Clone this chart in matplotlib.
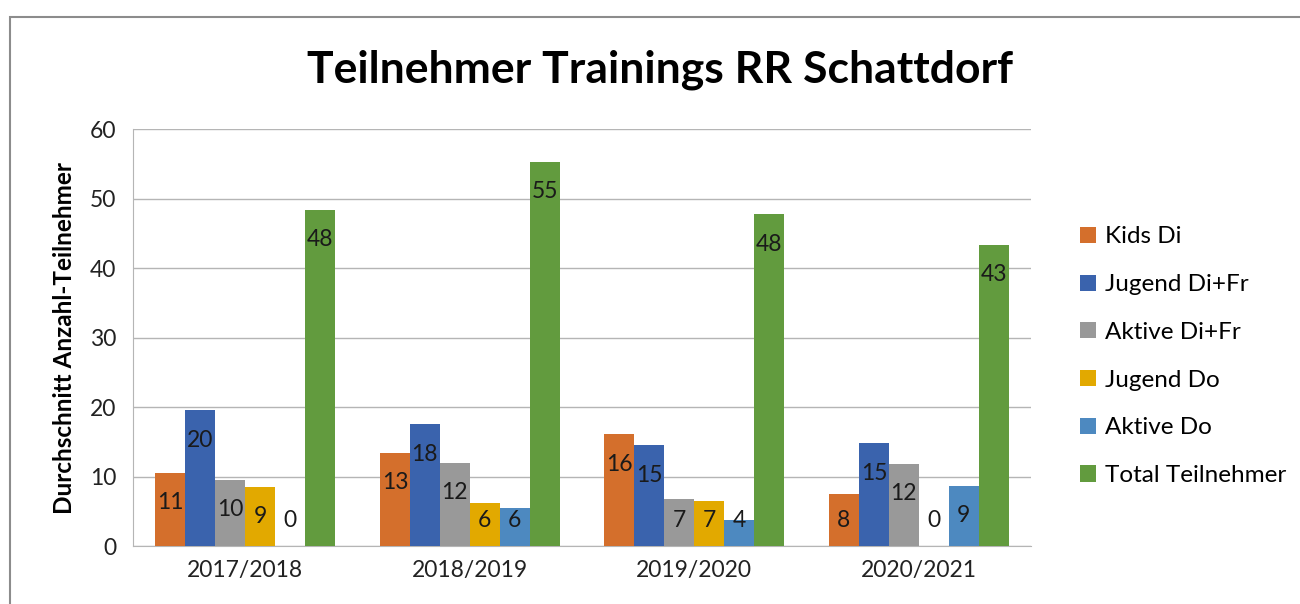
#!/usr/bin/env python3

import matplotlib
matplotlib.use('Agg')
import matplotlib.pyplot as plt
from matplotlib.patches import Rectangle
import numpy as np

plt.rcParams['font.family'] = ['Lato', 'DejaVu Sans']

seasons = ['2017/2018', '2018/2019', '2019/2020', '2020/2021']
series = ['Kids Di', 'Jugend Di+Fr', 'Aktive Di+Fr', 'Jugend Do', 'Aktive Do', 'Total Teilnehmer']
kids_di = [10.5, 13.4, 16.1, 7.5]
jugend_di_fr = [19.5, 17.5, 14.5, 14.8]
aktive_di_fr = [9.5, 12.0, 6.7, 11.8]
jugend_do = [8.5, 6.2, 6.5, 0]
aktive_do = [0, 5.5, 3.7, 8.7]
total = [48.4, 55.3, 47.7, 43.3]
colors = ['#D46F2C', '#3A63AD', '#999999', '#E2A900', '#4D89C0', '#629B3E']

values = [kids_di, jugend_di_fr, aktive_di_fr, jugend_do, aktive_do, total]

fig = plt.figure(figsize=(13, 6.04), dpi=100)
ax = fig.add_axes([0.1023, 0.096, 0.6908, 0.6904])

# chart frame
fig.patches.append(Rectangle((10/1300, -0.1), 1.2, (604-17)/604 + 0.1, transform=fig.transFigure,
                             fill=False, edgecolor='#8c8c8c', linewidth=1.5))

x = np.arange(len(seasons))
w = 0.8 / len(series)
for i, (name, vals, c) in enumerate(zip(series, values, colors)):
    pos = x + (i - 2.5) * w
    ax.bar(pos, vals, w, color=c, label=name, zorder=3)
    for p, v in zip(pos, vals):
        ax.text(p, max(v - 4.3, 3.7), str(int(v + 0.5)), ha='center', va='center',
                fontsize=16.5, color='#1a1a1a', zorder=4)

ax.set_xlim(-0.5, 3.5)
ax.set_ylim(0, 60)
ax.set_yticks(range(0, 61, 10))
ax.set_xticks(x)
ax.set_xticklabels(seasons)
ax.tick_params(length=0, labelsize=16.5, colors='#222222')
ax.tick_params(axis='x', pad=10)
ax.tick_params(axis='y', pad=12)
ax.grid(axis='y', color='#b5b5b5', linewidth=1, zorder=0)
for s in ['top', 'right']:
    ax.spines[s].set_visible(False)
ax.spines['left'].set_color('#b5b5b5')
ax.spines['bottom'].set_color('#b5b5b5')

ax.set_ylabel('Durchschnitt Anzahl-Teilnehmer', fontsize=17.5, fontweight='bold', labelpad=10)

fig.text(0.508, 0.885, 'Teilnehmer Trainings RR Schattdorf', ha='center', va='center',
         fontsize=32, fontweight='bold')

leg = ax.legend(loc='center left', bbox_to_anchor=(1.03, 0.455), frameon=False, fontsize=17.5,
                handlelength=0.65, handleheight=0.65, handletextpad=0.4, labelspacing=1.1)

fig.savefig('out.png', dpi=100)
